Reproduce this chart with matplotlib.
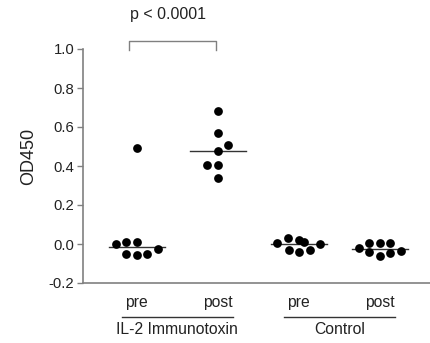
import numpy as np
import matplotlib
matplotlib.use('Agg')
import matplotlib.pyplot as plt
import matplotlib.transforms as mtransforms

# OD450 values per group
il2_pre = [-0.002, 0.012, 0.012, -0.053, -0.056, -0.053, -0.026, 0.49]
il2_post = [0.684, 0.568, 0.506, 0.478, 0.407, 0.407, 0.337]
ctrl_pre = [0.004, 0.029, 0.021, 0.012, 0.0, -0.031, -0.039, -0.031]
ctrl_post = [-0.019, 0.004, 0.004, 0.004, -0.039, -0.062, -0.048, -0.036]

# horizontal scatter offsets of the dots (swarm layout)
il2_pre_dx = [-0.26, -0.13, 0.0, -0.13, 0.0, 0.13, 0.26, 0.0]
il2_post_dx = [0.0, 0.0, 0.13, 0.0, -0.13, 0.0, 0.0]
ctrl_pre_dx = [-0.27, -0.13, 0.0, 0.06, 0.26, -0.12, 0.0, 0.14]
ctrl_post_dx = [-0.26, -0.13, 0.0, 0.13, -0.13, 0.0, 0.13, 0.26]

tick_labels = ['pre', 'post', 'pre', 'post']
group_labels = ['IL-2 Immunotoxin', 'Control']
p_text = 'p < 0.0001'

plt.rcParams['font.family'] = ['Liberation Sans', 'DejaVu Sans']
gray = '#808080'
txt = '#222222'

fig = plt.figure(figsize=(4.3, 3.43), dpi=100)
ax = fig.add_axes([82.5 / 430, 60 / 343, (430 - 82.5) / 430, 234 / 343])

groups = [il2_pre, il2_post, ctrl_pre, ctrl_post]
offsets = [il2_pre_dx, il2_post_dx, ctrl_pre_dx, ctrl_post_dx]
for i, (vals, dx) in enumerate(zip(groups, offsets)):
    x = i + 1 + np.array(dx)
    ax.plot(x, vals, 'o', color='black', markersize=6.3, markeredgewidth=0, clip_on=False, zorder=3)
    med = np.median(vals)
    ax.plot([i + 1 - 0.345, i + 1 + 0.345], [med, med], color='#333333', lw=1.0, zorder=2)

ax.set_xlim(0.331, 4.62)
ax.set_ylim(-0.2, 1.0)
ax.set_yticks([-0.2, 0.0, 0.2, 0.4, 0.6, 0.8, 1.0])
ax.set_yticklabels(['-0.2', '0.0', '0.2', '0.4', '0.6', '0.8', '1.0'])
ax.set_xticks([1, 2, 3, 4])
ax.set_xticklabels(tick_labels)
ax.tick_params(axis='x', length=0, pad=9, labelsize=11.3, labelcolor=txt)
ax.tick_params(axis='y', length=4, width=1.0, color=gray, pad=2, labelsize=10.7, labelcolor=txt)

for s in ['top', 'right']:
    ax.spines[s].set_visible(False)
for s in ['left', 'bottom']:
    ax.spines[s].set_color(gray)
    ax.spines[s].set_linewidth(1.2)

ax.set_ylabel('OD450', fontsize=13, color=txt)
ax.yaxis.set_label_coords(-0.132, 0.543)

# group underlines and labels
trans = mtransforms.blended_transform_factory(ax.transData, ax.transAxes)
for k, name in enumerate(group_labels):
    c = 1.5 + 2 * k
    ax.plot([c - 0.685, c + 0.685], [-0.145, -0.145], color='#333333', lw=1.0,
            transform=trans, clip_on=False)
    ax.text(c, -0.2, name, transform=trans, ha='center', va='center',
            fontsize=11.3, color=txt)

# significance bracket
ax.plot([0.9, 0.9, 1.98, 1.98], [0.995, 1.043, 1.043, 0.995], color=gray, lw=1.0, clip_on=False)
ax.text(1.39, 1.175, p_text, ha='center', va='center', fontsize=11.5, color=txt)

fig.savefig('out.png', dpi=100)
